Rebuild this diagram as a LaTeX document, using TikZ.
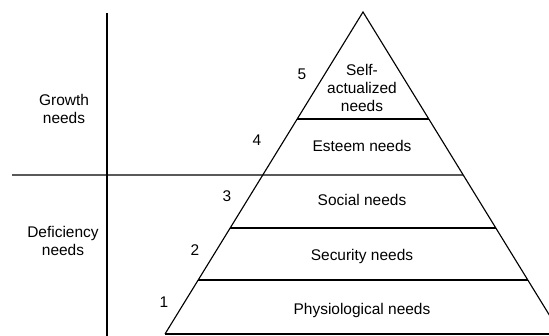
\documentclass[tikz,border=0pt]{standalone}
\usepackage{fontspec}
\setmainfont{Liberation Sans}
\usetikzlibrary{calc}
\begin{document}
\begin{tikzpicture}[lbl/.style={font=\fontsize{11}{13}\selectfont,align=center,inner sep=0pt}]
    \useasboundingbox (0,0) rectangle (13.725,8.4);
    \begin{scope}
        \clip (0,0) rectangle (13.725,8.4);
        \coordinate (apex) at (9.075,8.1);
        \coordinate (bl) at (4.125,0.05);
        \coordinate (br) at (14.025,0.05);
        \draw[line width=0.8pt] (bl) -- (apex) -- (br);
        \draw[line width=1.1pt] (bl) -- (br);
        \draw[line width=0.8pt] ($(apex)!0.3323!(bl)$) -- ($(apex)!0.3323!(br)$);
        \draw[line width=0.8pt] ($(apex)!0.6708!(bl)$) -- ($(apex)!0.6708!(br)$);
        \draw[line width=0.8pt] ($(apex)!0.8323!(bl)$) -- ($(apex)!0.8323!(br)$);
        \draw[line width=0.8pt] (0.3,4.025) -- ($(apex)!0.5062!(br)$);
    \end{scope}
    \draw[line width=1pt] (2.675,8.075) -- (2.675,0);
    \node[lbl] (self) at (9.05,6.2) {Self-\\actualized\\needs};
    \node[lbl] (esteem) at (9.05,4.75) {Esteem needs};
    \node[lbl] (social) at (9.05,3.4) {Social needs};
    \node[lbl] (security) at (9.05,1.99) {Security needs};
    \node[lbl] (physio) at (9.05,0.625) {Physiological needs};
    \node[lbl] (n5) at (7.55,6.55) {5};
    \node[lbl] (n4) at (6.425,4.9) {4};
    \node[lbl] (n3) at (5.675,3.5) {3};
    \node[lbl] (n2) at (4.875,2.15) {2};
    \node[lbl] (n1) at (4.1,0.85) {1};
    \node[lbl] (growth) at (1.6,5.675) {Growth\\needs};
    \node[lbl] (deficiency) at (1.575,2.375) {Deficiency\\needs};
\end{tikzpicture}
\end{document}
